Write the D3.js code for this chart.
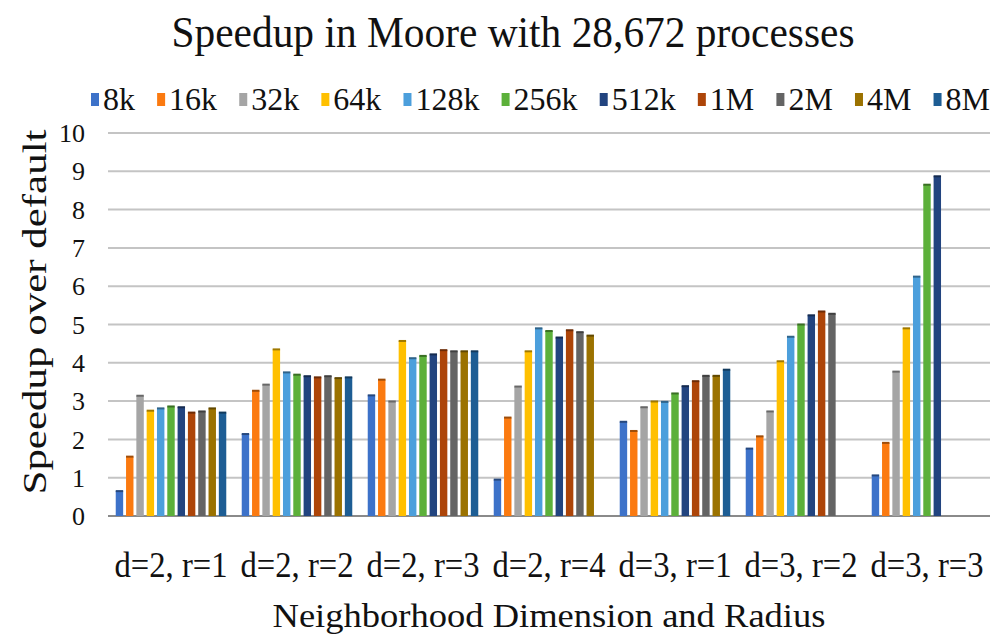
<!DOCTYPE html>
<html>
<head>
<meta charset="utf-8">
<script src="https://cdn.jsdelivr.net/npm/d3@7"></script>
<style>
  body { margin: 0; background: #fff; }
</style>
</head>
<body>
<div id="chart-area"></div>
<script>
// categories on the x axis
const groups = ["d=2, r=1", "d=2, r=2", "d=2, r=3", "d=2, r=4", "d=3, r=1", "d=3, r=2", "d=3, r=3"];
// series (problem sizes)
const series = ["8k", "16k", "32k", "64k", "128k", "256k", "512k", "1M", "2M", "4M", "8M"];
const seriesColors = ["#3d72c9", "#fb7a10", "#a5a5a5", "#ffc000", "#4c9fdc", "#5cb03a",
                      "#22447f", "#ad4509", "#646464", "#9b7200", "#1d5d94"];
// values per series, one per group (null = no bar)
const v8k   = [0.65, 2.14, 3.15, 0.95, 2.46, 1.76, 1.06];
const v16k  = [1.55, 3.27, 3.56, 2.57, 2.22, 2.08, 1.91];
const v32k  = [3.14, 3.43, 2.99, 3.38, 2.84, 2.73, 3.77];
const v64k  = [2.75, 4.35, 4.57, 4.30, 2.99, 4.04, 4.90];
const v128k = [2.81, 3.75, 4.12, 4.90, 2.98, 4.68, 6.25];
const v256k = [2.86, 3.69, 4.18, 4.83, 3.20, 5.00, 8.65];
const v512k = [2.84, 3.65, 4.22, 4.66, 3.39, 5.24, 8.87];
const v1M   = [2.70, 3.62, 4.33, 4.85, 3.52, 5.34, null];
const v2M   = [2.73, 3.65, 4.30, 4.80, 3.66, 5.28, null];
const v4M   = [2.81, 3.60, 4.30, 4.71, 3.66, null, null];
const v8M   = [2.70, 3.62, 4.30, null, 3.82, null, null];
const seriesValues = [v8k, v16k, v32k, v64k, v128k, v256k, v512k, v1M, v2M, v4M, v8M];
const yTicks = [0, 1, 2, 3, 4, 5, 6, 7, 8, 9, 10];

const W = 995, H = 637;
const plot = { left: 108, right: 990, top: 133, bottom: 516 };

const svg = d3.select("#chart-area")
    .append("svg")
        .attr("width", W)
        .attr("height", H)
        .style("font-family", '"Liberation Serif"');

// Scales
const x = d3.scaleBand()
    .domain(groups)
    .range([plot.left, plot.right]);

const xs = d3.scaleBand()
    .domain(series)
    .range([0, x.bandwidth()])
    .paddingOuter(0.75)
    .paddingInner(0.28);

const y = d3.scaleLinear()
    .domain([0, 10])
    .range([plot.bottom, plot.top]);

// gridlines
svg.append("g")
    .selectAll("line")
    .data(yTicks)
    .join("line")
        .attr("x1", plot.left)
        .attr("x2", plot.right)
        .attr("y1", d => y(d))
        .attr("y2", d => y(d))
        .attr("stroke", d => d === 0 ? "#8a8a8a" : "#c4c4c4")
        .attr("stroke-width", 2);

// Y tick labels
svg.append("g")
    .selectAll("text")
    .data(yTicks)
    .join("text")
        .attr("x", 85)
        .attr("y", d => y(d))
        .attr("dy", "0.35em")
        .attr("text-anchor", "end")
        .attr("font-size", "26px")
        .attr("fill", "#111")
        .text(d => d);

// bars
let bars = [];
seriesValues.forEach((vals, si) => {
    vals.forEach((v, gi) => {
        if (v != null) bars.push({ s: series[si], g: groups[gi], v: v, c: seriesColors[si] });
    });
});

const barG = svg.append("g");
barG.selectAll("rect.bar")
    .data(bars)
    .join("rect")
        .attr("class", "bar")
        .attr("x", d => x(d.g) + xs(d.s))
        .attr("y", d => y(d.v))
        .attr("width", xs.bandwidth())
        .attr("height", d => y(0) - y(d.v))
        .attr("fill", d => d.c);

// darker top edge on every bar
barG.selectAll("rect.cap")
    .data(bars)
    .join("rect")
        .attr("class", "cap")
        .attr("x", d => x(d.g) + xs(d.s))
        .attr("y", d => y(d.v) - 1)
        .attr("width", xs.bandwidth())
        .attr("height", 2)
        .attr("fill", d => d3.color(d.c).darker(1.3));

// X category labels
svg.append("g")
    .selectAll("text")
    .data(groups)
    .join("text")
        .attr("x", d => x(d) + x.bandwidth() / 2)
        .attr("y", 577)
        .attr("text-anchor", "middle")
        .attr("font-size", "35px")
        .attr("textLength", 113)
        .attr("lengthAdjust", "spacingAndGlyphs")
        .attr("fill", "#111")
        .text(d => d);

// title
svg.append("text")
    .attr("x", 513)
    .attr("y", 47)
    .attr("text-anchor", "middle")
    .attr("font-size", "44px")
    .attr("textLength", 683)
    .attr("lengthAdjust", "spacingAndGlyphs")
    .attr("fill", "#111")
    .text("Speedup in Moore with 28,672 processes");

// x axis title
svg.append("text")
    .attr("x", 549)
    .attr("y", 627)
    .attr("text-anchor", "middle")
    .attr("font-size", "34px")
    .attr("textLength", 553)
    .attr("lengthAdjust", "spacingAndGlyphs")
    .attr("fill", "#111")
    .text("Neighborhood Dimension and Radius");

// y axis title
svg.append("text")
    .attr("transform", "translate(46, 312) rotate(-90)")
    .attr("text-anchor", "middle")
    .attr("font-size", "33px")
    .attr("textLength", 365)
    .attr("lengthAdjust", "spacingAndGlyphs")
    .attr("fill", "#111")
    .text("Speedup over default");

// legend: measure the labels, then spread the items from x=91 to x=990
const legend = svg.append("g");
const items = legend.selectAll("g")
    .data(series)
    .join("g");
items.append("rect")
    .attr("x", 0)
    .attr("y", 93)
    .attr("width", 8)
    .attr("height", 13)
    .attr("fill", (d, i) => seriesColors[i]);
items.append("text")
    .attr("x", 12)
    .attr("y", 110)
    .attr("font-size", "32px")
    .attr("fill", "#111")
    .text(d => d);
const widths = items.select("text").nodes().map(n => 12 + n.getComputedTextLength());
const gap = (990 - 91 - d3.sum(widths)) / (series.length - 1);
let lx = 91;
items.attr("transform", (d, i) => {
    const t = `translate(${lx}, 0)`;
    lx += widths[i] + gap;
    return t;
});
</script>
</body>
</html>
